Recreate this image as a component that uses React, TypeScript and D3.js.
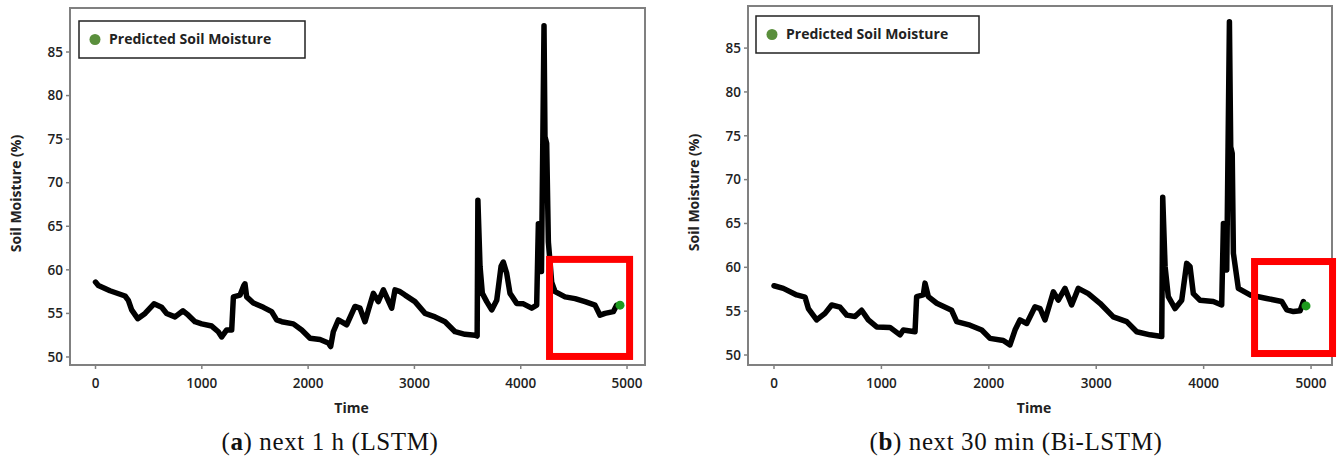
import React from 'react';
import * as d3 from 'd3';

// panel (a) — next 1 h (LSTM)
const timeA = [0, 27, 136, 278, 309, 340, 397, 466, 550, 622, 669, 748, 823, 873, 936, 999, 1093, 1155, 1187, 1234, 1281, 1297, 1360, 1395, 1406, 1422, 1485, 1579, 1657, 1704, 1752, 1861, 1940, 2018, 2112, 2190, 2212, 2237, 2284, 2363, 2441, 2488, 2535, 2567, 2614, 2660, 2708, 2786, 2817, 2865, 2912, 3005, 3100, 3194, 3288, 3382, 3476, 3570, 3590, 3597, 3617, 3639, 3680, 3727, 3774, 3815, 3836, 3868, 3899, 3962, 4025, 4103, 4150, 4166, 4175, 4183, 4195, 4219, 4228, 4244, 4260, 4291, 4323, 4417, 4511, 4605, 4699, 4746, 4793, 4871, 4903, 4925];
const moistA = [58.6, 58.2, 57.6, 57.0, 56.5, 55.4, 54.4, 55.0, 56.1, 55.7, 55.0, 54.6, 55.3, 54.8, 54.05, 53.8, 53.55, 52.9, 52.3, 53.1, 53.1, 56.9, 57.1, 58.2, 58.4, 56.9, 56.2, 55.7, 55.2, 54.25, 54.05, 53.8, 53.1, 52.15, 52.0, 51.6, 51.2, 52.9, 54.25, 53.7, 55.8, 55.6, 54.05, 55.4, 57.3, 56.35, 57.7, 55.6, 57.7, 57.5, 57.1, 56.35, 55.0, 54.6, 54.05, 52.9, 52.6, 52.5, 52.4, 68.0, 60.4, 57.3, 56.35, 55.4, 56.5, 60.4, 60.9, 59.6, 57.3, 56.15, 56.1, 55.6, 55.95, 65.3, 60.2, 64.6, 59.8, 88.0, 75.3, 74.5, 63.2, 58.6, 57.5, 56.9, 56.7, 56.35, 55.95, 54.8, 55.0, 55.2, 55.95, 55.95];
const dotA = { t: 4934, v: 55.95 };

// panel (b) — next 30 min (Bi-LSTM)
const timeB = [0, 87, 211, 289, 320, 397, 475, 537, 615, 677, 754, 816, 878, 956, 1080, 1173, 1204, 1313, 1328, 1390, 1406, 1437, 1515, 1654, 1701, 1825, 1934, 2011, 2135, 2197, 2244, 2290, 2353, 2430, 2477, 2523, 2601, 2647, 2709, 2771, 2833, 2926, 3035, 3159, 3284, 3377, 3501, 3610, 3619, 3641, 3671, 3734, 3796, 3842, 3873, 3904, 3966, 4090, 4168, 4184, 4200, 4215, 4240, 4252, 4266, 4277, 4323, 4432, 4587, 4727, 4774, 4836, 4898, 4929];
const moistB = [57.9, 57.6, 56.85, 56.6, 55.3, 54.0, 54.75, 55.7, 55.45, 54.55, 54.4, 55.1, 54.0, 53.2, 53.15, 52.3, 52.85, 52.65, 56.65, 56.85, 58.2, 56.65, 55.9, 55.1, 53.8, 53.4, 52.85, 51.9, 51.65, 51.15, 52.85, 54.0, 53.6, 55.5, 55.3, 54.0, 57.2, 56.25, 57.6, 55.7, 57.6, 57.0, 55.9, 54.35, 53.8, 52.65, 52.3, 52.1, 68.0, 60.1, 56.65, 55.3, 56.25, 60.45, 60.1, 57.0, 56.25, 56.1, 55.7, 65.0, 60.5, 59.7, 88.0, 73.75, 73.0, 61.6, 57.6, 56.85, 56.45, 56.1, 55.15, 54.95, 55.05, 56.1];
const dotB = { t: 4953, v: 55.6 };

const xTicks = [0, 1000, 2000, 3000, 4000, 5000];
const yTicks = [50, 55, 60, 65, 70, 75, 80, 85];
const legendLabel = 'Predicted Soil Moisture';
const xTitle = 'Time';
const yTitle = 'Soil Moisture (%)';

const sans = '"Open Sans", sans-serif';
const serif = '"Liberation Serif", "DejaVu Serif", serif';

const Panel = ({ frame, xDomain, yDomain, time, moist, dot, box, legend, yTitleX, caption }) => {
    const x = d3.scaleLinear().domain(xDomain).range([frame.l, frame.r]);
    const y = d3.scaleLinear().domain(yDomain).range([frame.b, frame.t]);
    const pts = time.map((t, i) => [t, moist[i]]);
    const line = d3.line().x(d => x(d[0])).y(d => y(d[1]));
    const midY = (frame.t + frame.b) / 2 + 7;

    return (
        <g>
            <rect x={frame.l} y={frame.t} width={frame.r - frame.l} height={frame.b - frame.t}
                fill="none" stroke="#808080" strokeWidth={2} />
            {yTicks.map(v => (
                <g key={v}>
                    <line x1={frame.l - 4} x2={frame.l} y1={y(v)} y2={y(v)} stroke="#808080" strokeWidth={1.5} />
                    <text x={frame.l - 7} y={y(v)} dy="0.35em" textAnchor="end"
                        fontFamily={sans} fontWeight={600} fontSize={13.5} fill="#222">{v}</text>
                </g>
            ))}
            {xTicks.map(t => (
                <g key={t}>
                    <line x1={x(t)} x2={x(t)} y1={frame.b} y2={frame.b + 4} stroke="#808080" strokeWidth={1.5} />
                    <text x={x(t)} y={frame.b + 23} textAnchor="middle"
                        fontFamily={sans} fontWeight={600} fontSize={13.5} fill="#222">{t}</text>
                </g>
            ))}
            <text x={(frame.l + frame.r) / 2 - 6} y={frame.b + 48} textAnchor="middle"
                fontFamily={sans} fontWeight={700} fontSize={14} fill="#222">{xTitle}</text>
            <text transform={`translate(${yTitleX},${midY}) rotate(-90)`} textAnchor="middle"
                fontFamily={sans} fontWeight={700} fontSize={14} fill="#222">{yTitle}</text>

            <path d={line(pts)} fill="none" stroke="#000" strokeWidth={5.5}
                strokeLinejoin="round" strokeLinecap="round" />
            <circle cx={x(dot.t)} cy={y(dot.v)} r={4.5} fill="#1e9a1e" />

            <rect x={x(box.t0)} y={y(box.v1)} width={x(box.t1) - x(box.t0)} height={y(box.v0) - y(box.v1)}
                fill="none" stroke="#ff0000" strokeWidth={7} />

            <rect x={legend.x} y={legend.y} width={legend.w} height={legend.h}
                fill="#fff" stroke="#222" strokeWidth={1.5} />
            <circle cx={legend.x + 16} cy={legend.y + legend.h / 2} r={5.5} fill="#5a8f3c" />
            <text x={legend.x + 30} y={legend.y + legend.h / 2} dy="0.35em"
                fontFamily={sans} fontWeight={700} fontSize={14} fill="#222">{legendLabel}</text>

            <text x={caption.x} y={450} textAnchor="middle" fontFamily={serif} fontSize={25}
                letterSpacing={0.6} fill="#111">
                (<tspan fontWeight={700}>{caption.tag}</tspan>) {caption.text}
            </text>
        </g>
    );
};

export default function App() {
    return (
        <div style={{ position: 'absolute', left: 0, top: 0 }}>
            <svg width={1340} height={459} style={{ display: 'block', background: '#fff' }}>
                <Panel
                    frame={{ l: 70, t: 8, r: 645, b: 365 }}
                    xDomain={[-240, 5169]}
                    yDomain={[49.08, 90.05]}
                    time={timeA} moist={moistA} dot={dotA}
                    box={{ t0: 4271, t1: 5024, v0: 50.06, v1: 61.2 }}
                    legend={{ x: 79, y: 21, w: 226, h: 37 }}
                    yTitleX={21}
                    caption={{ x: 330, tag: 'a', text: 'next 1 h (LSTM)' }}
                />
                <Panel
                    frame={{ l: 748, t: 6, r: 1332, b: 365 }}
                    xDomain={[-242, 5195]}
                    yDomain={[48.86, 89.8]}
                    time={timeB} moist={moistB} dot={dotB}
                    box={{ t0: 4474, t1: 5200, v0: 50.17, v1: 60.66 }}
                    legend={{ x: 756, y: 16, w: 223, h: 37 }}
                    yTitleX={699}
                    caption={{ x: 1016, tag: 'b', text: 'next 30 min (Bi-LSTM)' }}
                />
            </svg>
        </div>
    );
}
